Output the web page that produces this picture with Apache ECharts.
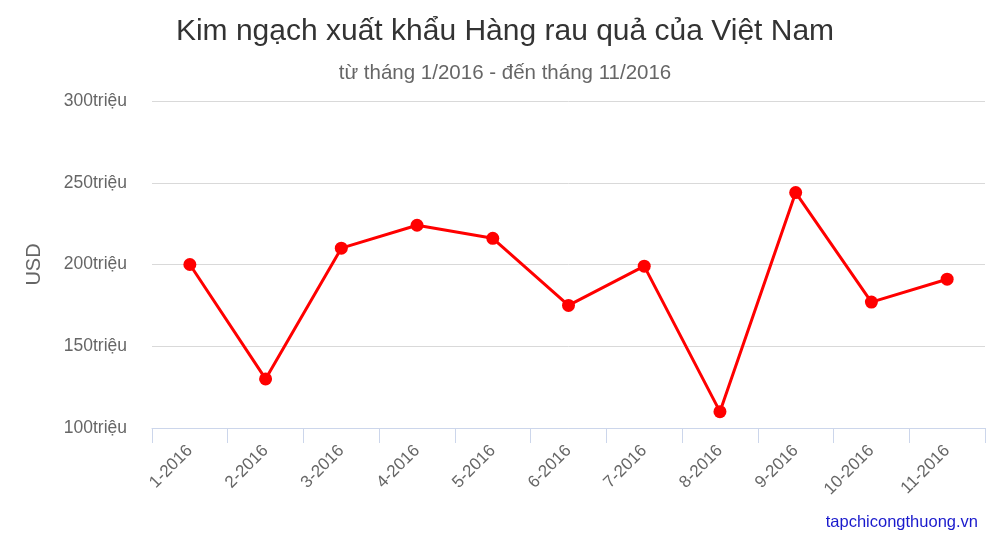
<!DOCTYPE html>
<html>
<head>
<meta charset="utf-8">
<script src="https://cdn.jsdelivr.net/npm/echarts@6/dist/echarts.min.js"></script>
<style>
html,body{margin:0;padding:0;background:#fff;}
#chart{width:1000px;height:533px;}
</style>
</head>
<body>
<div id="chart"></div>
<script>
var categories = ['1-2016','2-2016','3-2016','4-2016','5-2016','6-2016','7-2016','8-2016','9-2016','10-2016','11-2016'];
var values = [200, 130, 210, 224, 216, 175, 199, 110, 244, 177, 191];
var yTicks = [100, 150, 200, 250, 300];

var chart = echarts.init(document.getElementById('chart'));
var font = '"Liberation Sans", Arial, sans-serif';
chart.setOption({
  animation: false,
  backgroundColor: '#fff',
  title: [{
    text: 'Kim ngạch xuất khẩu Hàng rau quả của Việt Nam',
    left: 500, top: 12, textAlign: 'center',
    textStyle: {fontFamily: font, fontSize: 30, fontWeight: 'normal', color: '#333'}
  }, {
    text: 'từ tháng 1/2016 - đến tháng 11/2016',
    left: 500, top: 58, textAlign: 'center',
    textStyle: {fontFamily: font, fontSize: 20.5, fontWeight: 'normal', color: '#666'}
  }, {
    text: 'tapchicongthuong.vn',
    right: 17, top: 509,
    textStyle: {fontFamily: font, fontSize: 16.5, fontWeight: 'normal', color: '#1a1acc'}
  }],
  grid: {left: 152, right: 15, top: 101, bottom: 105},
  xAxis: {
    type: 'category',
    data: categories,
    boundaryGap: true,
    axisLine: {lineStyle: {color: '#ccd6eb'}},
    axisTick: {show: true, length: 15, alignWithLabel: false, lineStyle: {color: '#ccd6eb'}},
    axisLabel: {rotate: 45, margin: 20, fontFamily: font, fontSize: 17, color: '#666'}
  },
  yAxis: {
    type: 'value',
    min: yTicks[0], max: yTicks[yTicks.length-1], interval: 50,
    name: 'USD', nameLocation: 'middle', nameGap: 108, nameRotate: 90,
    nameTextStyle: {fontFamily: font, fontSize: 20, color: '#666'},
    axisLine: {show: false}, axisTick: {show: false},
    axisLabel: {margin: 25, fontFamily: font, fontSize: 17.5, color: '#666',
      formatter: function(v){ return v + 'triệu'; }},
    splitLine: {lineStyle: {color: '#d9d9d9'}}
  },
  series: [{
    type: 'line',
    data: values,
    color: '#ff0000',
    lineStyle: {width: 3, color: '#ff0000'},
    symbol: 'circle', symbolSize: 13,
    itemStyle: {color: '#ff0000'}
  }]
});
</script>
</body>
</html>
